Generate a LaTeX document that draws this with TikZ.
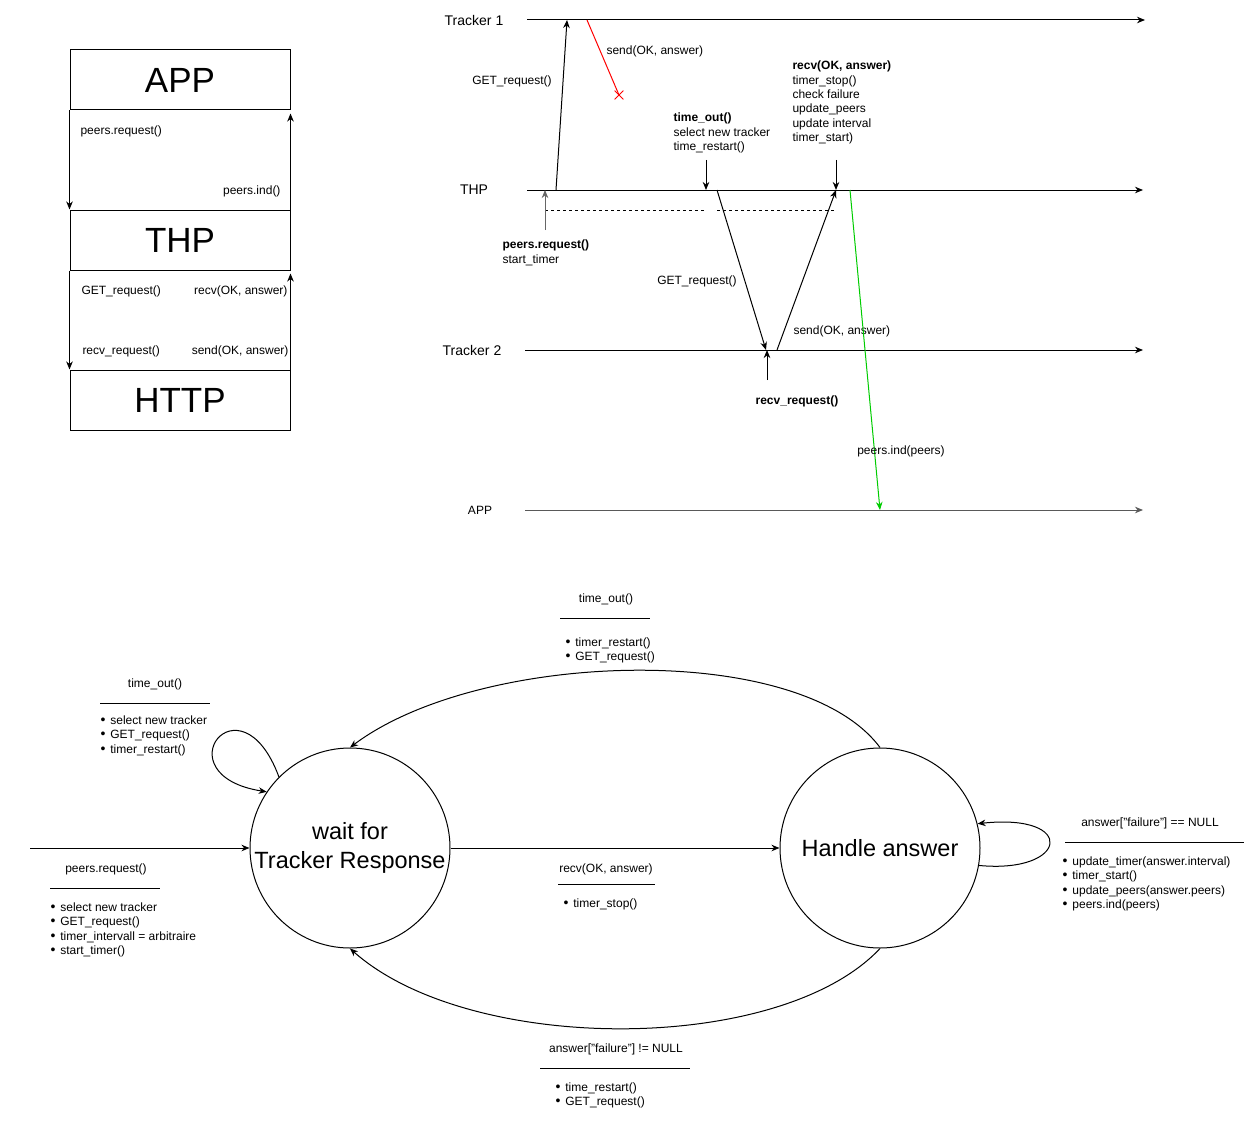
\documentclass[tikz,border=0pt]{standalone}
\usepackage{fontspec}
\setmainfont{Liberation Sans}
\usetikzlibrary{arrows.meta,shapes.misc}
\definecolor{lostred}{RGB}{255,0,0}
\definecolor{indgreen}{RGB}{0,204,0}
\newcommand\itm[1]{{\fontsize{14}{14}\selectfont\textbullet}\hspace{5pt}#1}
\tikzset{
	layer/.style = {
		shape=rectangle,
		draw,
		minimum width=220pt,
		minimum height=60pt,
		inner sep=0pt,
		font=\fontsize{35}{40}\selectfont
	},
	msg/.style = {inner sep=0pt, font=\fontsize{12}{14.4}\selectfont},
	block/.style = {msg, align=left, anchor=north west},
	lane/.style = {inner sep=0pt, font=\fontsize{14}{17}\selectfont},
	state/.style = {
		shape=circle,
		draw,
		minimum size=200pt,
		inner sep=0pt,
		align=center,
		font=\fontsize{23.5}{28.5}\selectfont
	},
	tip/.style = {-{Stealth[length=8pt,width=6.5pt,inset=2.5pt]}}
}

\begin{document}
\begin{tikzpicture}[x=1pt, y=-1pt, line width=1pt]
		\useasboundingbox (0,0) rectangle (1256,1129);
		\node[layer] (app) at (180,80) {APP};
		\node[layer] (thp) at (180,240) {THP};
		\node[layer] (http) at (180,400) {HTTP};
		\draw[tip] (app.south west) -- (thp.north west);
		\draw[tip] (thp.north east) -- ([yshift=-3pt]app.south east);
		\draw[tip] (thp.south west) -- (http.north west);
		\draw[tip] (http.north east) -- ([yshift=-3pt]thp.south east);
		\node[msg, anchor=west] at (80,131) {peers.request()};
		\node[msg, anchor=east] at (281,191) {peers.ind()};
		\node[msg, anchor=west] at (81,291) {GET\_request()};
		\node[msg, anchor=east] at (288,291) {recv(OK, answer)};
		\node[msg, anchor=west] at (82,351) {recv\_request()};
		\node[msg, anchor=east] at (289,351) {send(OK, answer)};

		\node[lane] (tr1) at (474,20) {Tracker 1};
		\node[lane] (thplane) at (474,190) {THP};
		\node[lane] (tr2) at (472,350) {Tracker 2};
		\node[msg] (applane) at (480,510) {APP};
		\coordinate (tr1s) at (527,20);
		\coordinate (tr1e) at (1145,20);
		\coordinate (thps) at (527,190);
		\coordinate (thpe) at (1143,190);
		\coordinate (tr2s) at (525,350);
		\coordinate (tr2e) at (1143,350);
		\coordinate (apps) at (525,510);
		\coordinate (appe) at (1143,510);
		\draw[tip] (tr1s) -- (tr1e);
		\draw[tip] (thps) -- (thpe);
		\draw[tip] (tr2s) -- (tr2e);
		\draw[tip, black!65] (apps) -- (appe);

		\coordinate (get1) at (556,190);
		\coordinate (get1end) at (567,20);
		\draw[tip] (get1) -- (get1end);
		\node[msg] at (512,81) {GET\_request()};
		\coordinate (send1) at (587,20);
		\coordinate (lost) at (619,95);
		\draw[lostred] (send1) -- (lost);
		\node[cross out, draw=lostred, line width=0.8pt, minimum size=8pt, inner sep=0pt] at (lost) {};
		\node[msg, anchor=west] at (606,51) {send(OK, answer)};

		\draw[dashed] (545,210) -- (705,210);
		\draw[dashed] (717,210) -- (836,210);
		\coordinate (preqfrom) at (545,230);
		\coordinate (preqto) at (545,190);
		\draw[tip, black!60] (preqfrom) -- (preqto);
		\node[block] (preq) at (502,239.5) {\textbf{peers.request()}\\start\_timer};

		\node[block] (tout) at (673,112.5) {\textbf{time\_out()}\\select new tracker\\time\_restart()};
		\coordinate (toutfrom) at (706,160);
		\coordinate (toutto) at (706,190);
		\draw[tip] (toutfrom) -- (toutto);
		\node[block] (recv) at (792,60.5) {\textbf{recv(OK, answer)}\\timer\_stop()\\check failure\\update\_peers\\update interval\\timer\_start)};
		\coordinate (recvfrom) at (836,160);
		\coordinate (recvto) at (836,190);
		\draw[tip] (recvfrom) -- (recvto);

		\coordinate (get2) at (717,190);
		\coordinate (get2end) at (766,350);
		\draw[tip] (get2) -- (get2end);
		\node[msg] at (697,281) {GET\_request()};
		\coordinate (send2) at (777,350);
		\coordinate (send2end) at (836,190);
		\draw[tip] (send2) -- (send2end);
		\node[msg, anchor=west] at (793,331) {send(OK, answer)};
		\coordinate (rreqfrom) at (767,380);
		\coordinate (rreqto) at (767,350);
		\draw[tip] (rreqfrom) -- (rreqto);
		\node[msg] at (797,401) {\textbf{recv\_request()}};
		\coordinate (ind) at (850,190);
		\coordinate (indend) at (880,510);
		\draw[tip, indgreen] (ind) -- (indend);
		\node[msg] at (901,451) {peers.ind(peers)};

		\node[state] (wait) at (350,848) {wait for\\Tracker Response};
		\node[state] (handle) at (880,848) {Handle answer};
		\coordinate (entry) at (30,848);
		\draw[tip] (entry) -- (wait);
		\node[msg] at (106,869) {peers.request()};
		\draw (50,888) -- (160,888);
		\node[block] at (50,902) {\itm{select new tracker}\\\itm{GET\_request()}\\\itm{timer\_intervall = arbitraire}\\\itm{start\_timer()}};

		\draw[tip] (wait.135) .. controls (240,672) and (160,775) .. (wait.146);
		\node[msg] at (155,684) {time\_out()};
		\draw (100,703) -- (210,703);
		\node[block] at (100,715) {\itm{select new tracker}\\\itm{GET\_request()}\\\itm{timer\_restart()}};

		\draw[tip] (handle.north) .. controls (800,640) and (480,650) .. (wait.north);
		\node[msg] at (606,599) {time\_out()};
		\draw (560,618) -- (650,618);
		\node[block] at (565,637) {\itm{timer\_restart()}\\\itm{GET\_request()}};

		\draw[tip] (wait) -- (handle);
		\node[msg] at (606,869) {recv(OK, answer)};
		\draw (558,884) -- (655,884);
		\node[block] at (563,898) {\itm{timer\_stop()}};

		\draw[tip] (handle.south) .. controls (780,1055) and (470,1055) .. (wait.south);
		\node[msg] at (616,1049) {answer["failure"] != NULL};
		\draw (540,1068) -- (690,1068);
		\node[block] at (555,1082) {\itm{time\_restart()}\\\itm{GET\_request()}};

		\draw[tip] (handle.-10) .. controls (1068,874) and (1078,813) .. (handle.14);
		\node[msg] at (1150,823) {answer["failure"] == NULL};
		\draw (1065,842) -- (1244,842);
		\node[block] at (1062,856) {\itm{update\_timer(answer.interval)}\\\itm{timer\_start()}\\\itm{update\_peers(answer.peers)}\\\itm{peers.ind(peers)}};
\end{tikzpicture}
\end{document}
